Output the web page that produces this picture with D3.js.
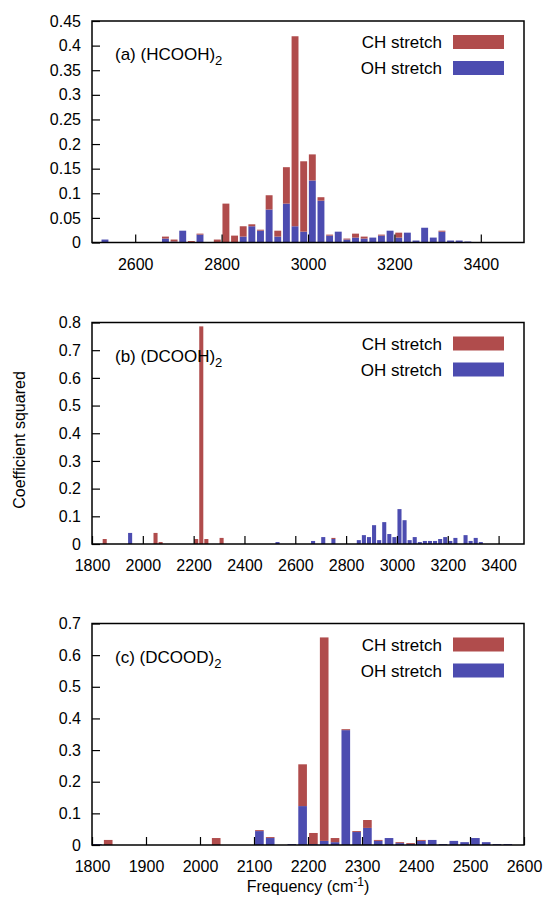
<!DOCTYPE html>
<html>
<head>
<meta charset="utf-8">
<script src="https://cdn.jsdelivr.net/npm/d3@7"></script>
<style>
  body { margin: 0; background: #fff; }
  text { font-family: "Liberation Sans", Arial, Helvetica, sans-serif; fill: #000; }
</style>
</head>
<body>
<svg id="chart"></svg>
<script>
// bin centres (cm-1) and squared coefficients
// panel (a) (HCOOH)2
const freqA = [2530, 2670, 2690, 2710, 2730, 2750, 2790, 2810, 2830, 2850, 2870, 2890, 2910, 2930, 2950, 2970, 2990, 3010, 3030, 3050, 3070, 3090, 3110, 3130, 3150, 3170, 3190, 3210, 3230, 3250, 3270, 3290, 3310, 3330, 3350, 3370];
const chA = [0, 0.004, 0.004, 0, 0.003, 0.002, 0.006, 0.079, 0.014, 0.021, 0.004, 0.002, 0.029, 0.012, 0.074, 0.386, 0.143, 0.053, 0.007, 0.002, 0, 0.002, 0.008, 0.004, 0, 0.002, 0, 0.010, 0, 0, 0, 0, 0.002, 0, 0, 0];
const ohA = [0.006, 0.008, 0.002, 0.024, 0, 0.016, 0, 0, 0, 0.012, 0.033, 0.024, 0.067, 0.012, 0.079, 0.033, 0.022, 0.126, 0.085, 0.014, 0.022, 0.006, 0.010, 0.008, 0.010, 0.014, 0.024, 0.010, 0.020, 0.004, 0.030, 0.010, 0.022, 0.004, 0.004, 0.002];

// panel (b) (DCOOH)2
const freqB = [1850, 1950, 2050, 2070, 2210, 2230, 2250, 2310, 2530, 2670, 2710, 2750, 2850, 2870, 2890, 2910, 2930, 2950, 2970, 2990, 3010, 3030, 3050, 3070, 3090, 3110, 3130, 3150, 3170, 3190, 3210, 3230, 3270, 3290, 3310, 3330];
const chB = [0.018, 0, 0.040, 0.007, 0.018, 0.786, 0.018, 0.022, 0, 0, 0, 0.004, 0, 0, 0, 0, 0, 0, 0, 0, 0, 0, 0, 0, 0, 0, 0, 0, 0, 0, 0, 0, 0, 0, 0, 0];
const ohB = [0, 0.040, 0, 0, 0, 0, 0, 0, 0.007, 0.011, 0.025, 0.018, 0.014, 0.032, 0.025, 0.068, 0.014, 0.079, 0.036, 0.025, 0.126, 0.086, 0.014, 0.025, 0.007, 0.011, 0.011, 0.011, 0.018, 0.025, 0.011, 0.022, 0.032, 0.011, 0.022, 0.007];

// panel (c) (DCOOD)2
const freqC = [1810, 1830, 2030, 2110, 2130, 2170, 2190, 2210, 2230, 2250, 2270, 2290, 2310, 2330, 2350, 2370, 2390, 2410, 2430, 2450, 2470, 2490, 2510, 2530, 2550, 2570];
const chC = [0, 0.016, 0.022, 0.003, 0.003, 0, 0.132, 0.035, 0.643, 0.013, 0.003, 0.003, 0.025, 0.003, 0, 0.003, 0.003, 0.003, 0, 0, 0, 0, 0, 0, 0, 0];
const ohC = [0.003, 0, 0, 0.044, 0.022, 0.003, 0.123, 0.003, 0.013, 0.009, 0.363, 0.041, 0.054, 0.013, 0.022, 0.006, 0.003, 0.013, 0.016, 0.003, 0.013, 0.009, 0.022, 0.009, 0.003, 0.003];

const ticksA = [2600, 2800, 3000, 3200, 3400];
const ticksB = [1800, 2000, 2200, 2400, 2600, 2800, 3000, 3200, 3400];
const ticksC = [1800, 1900, 2000, 2100, 2200, 2300, 2400, 2500, 2600];
const yTicksA = [0, 0.05, 0.1, 0.15, 0.2, 0.25, 0.3, 0.35, 0.4, 0.45];
const yTicksB = [0, 0.1, 0.2, 0.3, 0.4, 0.5, 0.6, 0.7, 0.8];
const yTicksC = [0, 0.1, 0.2, 0.3, 0.4, 0.5, 0.6, 0.7];

const seriesNames = ["CH stretch", "OH stretch"];

const width = 548, height = 900;
const left = 92, right = 524, panelH = 221.5;
const binW = 16; // bar width in cm-1
const red = "#b04c4c", blue = "#4c4cb0";

const svg = d3.select("#chart").attr("width", width).attr("height", height);

const panels = [
  {top: 21, label: "(a) (HCOOH)", freq: freqA, ch: chA, oh: ohA, xdom: [2500, 3500], ydom: [0, 0.45], xt: ticksA, yt: yTicksA},
  {top: 322.5, label: "(b) (DCOOH)", freq: freqB, ch: chB, oh: ohB, xdom: [1800, 3500], ydom: [0, 0.8], xt: ticksB, yt: yTicksB},
  {top: 623.5, label: "(c) (DCOOD)", freq: freqC, ch: chC, oh: ohC, xdom: [1800, 2600], ydom: [0, 0.7], xt: ticksC, yt: yTicksC}
];

const stack = d3.stack().keys(["oh", "ch"]);

panels.forEach(p => {
  const x = d3.scaleLinear().domain(p.xdom).range([left, right]);
  const y = d3.scaleLinear().domain(p.ydom).range([p.top + panelH, p.top]);
  const g = svg.append("g");

  const rows = p.freq.map((f, i) => ({f: f, ch: p.ch[i], oh: p.oh[i]}));
  const layers = stack(rows);

  // red (CH) sits on top of blue (OH)
  g.selectAll(".layer").data(layers).enter().append("g")
    .attr("fill", d => d.key == "oh" ? blue : red)
    .selectAll("rect").data(d => d.filter(s => s[1] - s[0] > 0)).enter().append("rect")
    .attr("x", d => x(d.data.f - binW / 2))
    .attr("width", d => x(d.data.f + binW / 2) - x(d.data.f - binW / 2))
    .attr("y", d => y(d[1]))
    .attr("height", d => y(d[0]) - y(d[1]));

  // inward ticks, no mirror
  const yAxis = d3.axisLeft(y).tickValues(p.yt).tickSizeInner(-8).tickSizeOuter(0).tickPadding(18)
    .tickFormat(d => d3.format("~g")(d));
  const ya = g.append("g").attr("transform", `translate(${left},0)`).call(yAxis);
  ya.select(".domain").remove();
  ya.selectAll("line").attr("stroke", "#000").attr("stroke-width", 1.2);
  ya.selectAll("text").attr("font-size", 16).attr("fill", "#000").attr("x", -11);

  const xAxis = d3.axisBottom(x).tickValues(p.xt).tickSizeInner(-8).tickSizeOuter(0).tickPadding(16)
    .tickFormat(d3.format("d"));
  const xa = g.append("g").attr("transform", `translate(0,${p.top + panelH})`).call(xAxis);
  xa.select(".domain").remove();
  xa.selectAll("line").attr("stroke", "#000").attr("stroke-width", 1.2);
  xa.selectAll("text").attr("font-size", 16).attr("fill", "#000");

  // frame
  g.append("rect").attr("x", left).attr("y", p.top).attr("width", right - left).attr("height", panelH)
    .attr("fill", "none").attr("stroke", "#000").attr("stroke-width", 1.5);

  // panel label
  const lab = g.append("text").attr("x", 115).attr("y", p.top + 39).attr("font-size", 17).text(p.label);
  lab.append("tspan").attr("font-size", 13).attr("dy", 5).text("2");

  // legend
  seriesNames.forEach((name, i) => {
    g.append("text").attr("x", 442).attr("y", p.top + 27 + i * 26)
      .attr("text-anchor", "end").attr("font-size", 17).text(name);
    g.append("rect").attr("x", 453).attr("y", p.top + 14 + i * 26)
      .attr("width", 51).attr("height", 14).attr("fill", i == 0 ? red : blue);
  });
});

// axis titles
svg.append("text").attr("transform", "translate(25,440) rotate(-90)")
  .attr("text-anchor", "middle").attr("font-size", 16).text("Coefficient squared");

const xt = svg.append("text").attr("x", (left + right) / 2).attr("y", 892)
  .attr("text-anchor", "middle").attr("font-size", 16);
xt.append("tspan").text("Frequency (cm");
xt.append("tspan").attr("font-size", 12).attr("dy", -6).text("-1");
xt.append("tspan").attr("dy", 6).text(")");
</script>
</body>
</html>
